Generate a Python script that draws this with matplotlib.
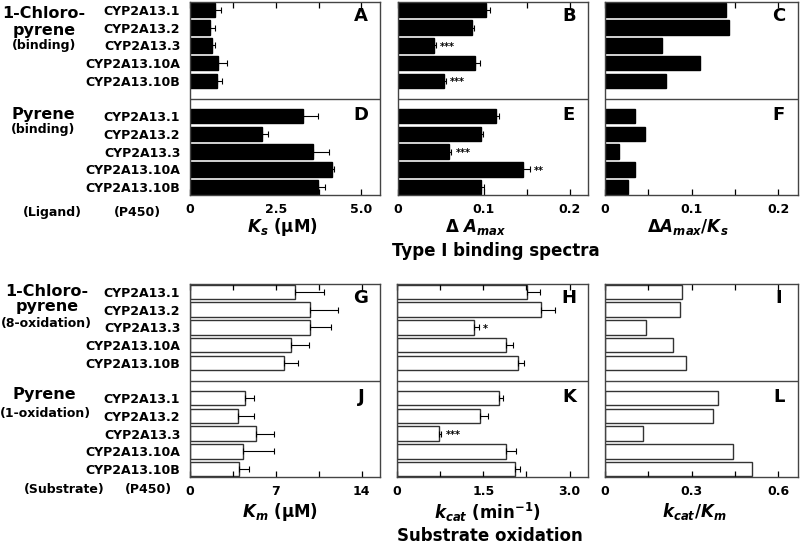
import matplotlib.pyplot as plt
import numpy as np
from matplotlib import transforms

# P450 variants (same order in every panel)
variants = ['CYP2A13.1', 'CYP2A13.2', 'CYP2A13.3', 'CYP2A13.10A', 'CYP2A13.10B']

# Type I binding spectra
ks_clp = [0.73, 0.58, 0.64, 0.83, 0.78]
ks_clp_err = [0.16, 0.15, 0.09, 0.26, 0.15]
ks_pyr = [3.30, 2.09, 3.60, 4.13, 3.74]
ks_pyr_err = [0.44, 0.19, 0.44, 0.06, 0.20]
amax_clp = [0.102, 0.086, 0.042, 0.090, 0.054]
amax_clp_err = [0.005, 0.002, 0.002, 0.005, 0.002]
amax_pyr = [0.114, 0.097, 0.059, 0.145, 0.097]
amax_pyr_err = [0.004, 0.002, 0.003, 0.008, 0.003]
ratio_clp = [0.140, 0.143, 0.066, 0.110, 0.071]
ratio_pyr = [0.035, 0.046, 0.016, 0.035, 0.026]

# Substrate oxidation
km_clp = [8.53, 9.75, 9.75, 8.23, 7.63]
km_clp_err = [2.37, 2.36, 1.74, 1.44, 1.14]
km_pyr = [4.51, 3.88, 5.40, 4.29, 3.96]
km_pyr_err = [0.73, 1.36, 1.47, 2.53, 0.82]
kcat_clp = [2.26, 2.50, 1.34, 1.90, 2.10]
kcat_clp_err = [0.22, 0.24, 0.08, 0.12, 0.10]
kcat_pyr = [1.78, 1.45, 0.73, 1.90, 2.05]
kcat_pyr_err = [0.06, 0.13, 0.04, 0.17, 0.08]
eff_clp = [0.265, 0.260, 0.141, 0.234, 0.279]
eff_pyr = [0.392, 0.373, 0.130, 0.442, 0.510]

# significance marks: panel -> {variant index: mark}
stars = {'B': {2: '***', 4: '***'}, 'E': {2: '***', 3: '**'},
         'H': {2: '*'}, 'K': {2: '***'}}

plt.rcParams['font.family'] = 'DejaVu Sans'
plt.rcParams['font.weight'] = 'bold'
plt.rcParams['mathtext.fontset'] = 'dejavusans'

W, H = 800, 546
fig = plt.figure(figsize=(8, 5.46), dpi=100)


def px(x, y):
    return x / W, 1 - y / H


def panel(left, top_px, width, vals_top, err_top, vals_bot, err_bot, xmax,
          major, labels, minor, filled, letters, show_y):
    ax = fig.add_axes([left / W, 1 - (top_px + 193) / H, width / W, 193 / H])
    y_top = np.arange(5)
    y_bot = np.arange(5) + 6
    fc = 'black' if filled else 'white'
    ec = 'black' if filled else '#333333'
    ekw = dict(ecolor='black', lw=0.8, capsize=2.5, capthick=0.8)
    for y, v, e in [(y_top, vals_top, err_top), (y_bot, vals_bot, err_bot)]:
        xerr = None if e is None else [np.zeros(5), e]
        ax.barh(y, v, height=0.82, color=fc, edgecolor=ec, lw=1.0,
                xerr=xerr, error_kw=ekw)
    ax.axhline(5, color='#444444', lw=1.0)
    ax.set_ylim(10.45, -0.45)
    ax.set_xlim(0, xmax)
    ax.set_xticks(major)
    ax.set_xticklabels(labels, fontsize=9, fontweight='bold')
    ax.set_xticks(minor, minor=True)
    ax.tick_params(axis='x', which='both', direction='in', top=True,
                   length=4, width=0.9, pad=6)
    ax.set_yticks(list(y_top) + list(y_bot))
    if show_y:
        ax.set_yticklabels(variants * 2, fontsize=9, fontweight='bold')
    else:
        ax.set_yticklabels([])
    ax.tick_params(axis='y', length=0, pad=7)
    for s in ax.spines.values():
        s.set_color('#444444')
        s.set_linewidth(1.0)
    tr = transforms.blended_transform_factory(ax.transAxes, ax.transData)
    for (name, ypos, vals, errs, yoff) in [(letters[0], 0.35, vals_top, err_top, 0),
                                         (letters[1], 5.95, vals_bot, err_bot, 6)]:
        ax.text(0.9, ypos, name, transform=tr, ha='center', va='center',
                fontsize=13, fontweight='bold')
        for i, mark in stars.get(name, {}).items():
            ax.annotate(mark, (vals[i] + errs[i], i + yoff), xytext=(3, -1),
                        textcoords='offset points', ha='left', va='center',
                        fontsize=7, fontweight='bold')
    return ax


# binding row
panel(190, 2, 190, ks_clp, ks_clp_err, ks_pyr, ks_pyr_err, 5.54,
      [0, 2.5, 5.0], ['0', '2.5', '5.0'], [1.25, 3.75], True, 'AD', True)
panel(398, 2, 190, amax_clp, amax_clp_err, amax_pyr, amax_pyr_err, 0.221,
      [0, 0.1, 0.2], ['0', '0.1', '0.2'], [0.05, 0.15], True, 'BE', False)
panel(605, 2, 193, ratio_clp, None, ratio_pyr, None, 0.223,
      [0, 0.1, 0.2], ['0', '0.1', '0.2'], [0.05, 0.15], True, 'CF', False)

# oxidation row
panel(190, 284, 190, km_clp, km_clp_err, km_pyr, km_pyr_err, 15.5,
      [0, 7, 14], ['0', '7', '14'], [3.5, 10.5], False, 'GJ', True)
panel(397, 284, 191, kcat_clp, kcat_clp_err, kcat_pyr, kcat_pyr_err, 3.32,
      [0, 1.5, 3.0], ['0', '1.5', '3.0'], [0.75, 2.25], False, 'HK', False)
panel(605, 284, 193, eff_clp, None, eff_pyr, None, 0.668,
      [0, 0.3, 0.6], ['0', '0.3', '0.6'], [0.15, 0.45], False, 'IL', False)

# axis labels
fig.text(*px(282, 227), r'$\mathbfit{K}_{\mathbfit{s}}$ (μM)', ha='center', va='center', fontsize=12)
fig.text(*px(476, 227), r'Δ $\mathbfit{A}_{\mathbfit{max}}$', ha='center', va='center', fontsize=12)
fig.text(*px(688, 227), r'Δ$\mathbfit{A}_{\mathbfit{max}}$/$\mathbfit{K}_{\mathbfit{s}}$', ha='center', va='center', fontsize=12)
fig.text(*px(280, 512), r'$\mathbfit{K}_{\mathbfit{m}}$ (μM)', ha='center', va='center', fontsize=12)
fig.text(*px(487, 512), r'$\mathbfit{k}_{\mathbfit{cat}}$ (min$^{\mathbf{-1}}$)', ha='center', va='center', fontsize=12)
fig.text(*px(694, 512), r'$\mathbfit{k}_{\mathbfit{cat}}$/$\mathbfit{K}_{\mathbfit{m}}$', ha='center', va='center', fontsize=12)

# section titles
fig.text(*px(496, 251), 'Type I binding spectra', ha='center', va='center', fontsize=12)
fig.text(*px(490, 536), 'Substrate oxidation', ha='center', va='center', fontsize=12)

# row labels on the left
big, small = 11.5, 9
for x, y, s, fs in [(44, 13, '1-Chloro-', big), (44, 30, 'pyrene', big),
                    (44, 45, '(binding)', small),
                    (43, 114, 'Pyrene', big), (43, 130, '(binding)', small),
                    (52, 213, '(Ligand)', small), (137, 213, '(P450)', small),
                    (47, 292, '1-Chloro-', big), (47, 307, 'pyrene', big),
                    (46, 323, '(8-oxidation)', small),
                    (44, 395, 'Pyrene', big), (45, 413, '(1-oxidation)', small),
                    (64, 490, '(Substrate)', small), (148, 490, '(P450)', small)]:
    fig.text(*px(x, y), s, ha='center', va='center', fontsize=fs, fontweight='bold')

fig.savefig('out.png', dpi=100)
